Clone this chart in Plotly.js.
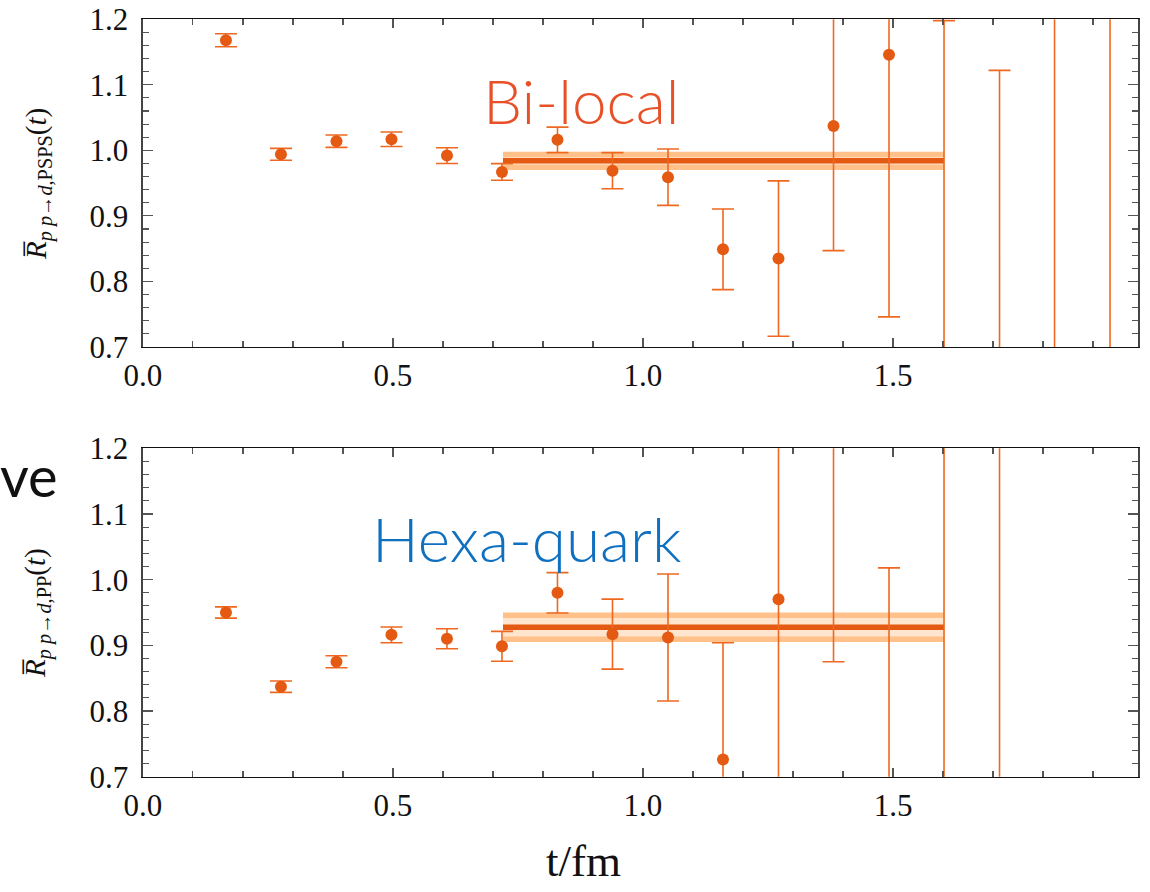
<!DOCTYPE html>
<html>
<head>
<meta charset="utf-8">
<script src="https://cdn.plot.ly/plotly-3.0.1.min.js"></script>
<style>html,body{margin:0;padding:0;background:#fff;}#chart{width:1150px;height:892px;}</style>
</head>
<body>
<div id="chart"></div>
<script>
// ---- data ----
const tTop = [0.166, 0.276, 0.387, 0.497, 0.608, 0.718, 0.829, 0.939, 1.050, 1.160, 1.271, 1.381, 1.492, 1.602, 1.713, 1.823, 1.934];
const rTop = [1.168, 0.994, 1.014, 1.017, 0.992, 0.967, 1.016, 0.969, 0.959, 0.849, 0.835, 1.037, 1.146, 0.55, 0.45, 0.40, 0.35];
const eTop = [0.010, 0.009, 0.0094, 0.011, 0.012, 0.0127, 0.0195, 0.0275, 0.043, 0.0615, 0.1185, 0.19, 0.40, 0.648, 0.672, 1.6, 1.7];

const tBot = [0.166, 0.276, 0.387, 0.497, 0.608, 0.718, 0.829, 0.939, 1.050, 1.160, 1.271, 1.381, 1.492, 1.602, 1.713];
const rBot = [0.950, 0.837, 0.875, 0.916, 0.910, 0.8985, 0.980, 0.917, 0.912, 0.726, 0.970, 1.35, 0.55, 0.40, 0.35];
const eBot = [0.0086, 0.0086, 0.0091, 0.012, 0.0152, 0.0228, 0.0307, 0.0533, 0.0967, 0.178, 0.35, 0.475, 0.468, 1.5, 1.6];

const fitRange = [0.72, 1.602];
const fitTop = [0.984, 0.0097];   // value, error
const fitBot = [0.9274, 0.0183];

const xTicks = [0.0, 0.5, 1.0, 1.5];
const xTickText = ['0.0', '0.5', '1.0', '1.5'];
const yTicks = [0.7, 0.8, 0.9, 1.0, 1.1, 1.2];
const yTickText = ['0.7', '0.8', '0.9', '1.0', '1.1', '1.2'];

// ---- style ----
const markerColor = 'rgb(228,90,18)';
const errColor = 'rgb(238,104,32)';
const bandEdge = 'rgb(255,192,138)';
const bandFill = 'rgba(255,226,200,0.9)';
const serif = 'Liberation Serif';

function pointsTrace(t, r, e, xa, ya) {
  return {
    x: t, y: r, xaxis: xa, yaxis: ya, type: 'scatter', mode: 'markers',
    marker: {color: markerColor, size: 12},
    error_y: {type: 'data', array: e, symmetric: true, color: errColor, thickness: 1.6, width: 11},
    showlegend: false, hoverinfo: 'skip'
  };
}
function bandTraces(fit, xa, ya) {
  const lo = fit[0] - fit[1], hi = fit[0] + fit[1];
  return [
    {x: fitRange, y: [lo, lo], xaxis: xa, yaxis: ya, mode: 'lines', line: {color: bandEdge, width: 5.5}, showlegend: false, hoverinfo: 'skip'},
    {x: fitRange, y: [hi, hi], xaxis: xa, yaxis: ya, mode: 'lines', fill: 'tonexty', fillcolor: bandFill, line: {color: bandEdge, width: 5.5}, showlegend: false, hoverinfo: 'skip'},
    {x: fitRange, y: [fit[0], fit[0]], xaxis: xa, yaxis: ya, mode: 'lines', line: {color: markerColor, width: 5.5}, showlegend: false, hoverinfo: 'skip'}
  ];
}

const data = [].concat(
  bandTraces(fitTop, 'x', 'y'),
  [pointsTrace(tTop, rTop, eTop, 'x', 'y')],
  bandTraces(fitBot, 'x2', 'y2'),
  [pointsTrace(tBot, rBot, eBot, 'x2', 'y2')]
);

function xAxis(anchor) {
  return {
    domain: [0.1243, 0.9896], anchor: anchor, range: [0, 1.99],
    tickvals: xTicks, ticktext: xTickText, ticks: 'inside', ticklen: 9, tickwidth: 1.2, tickcolor: '#555',
    minor: {dtick: 0.1, tick0: 0, ticks: 'inside', ticklen: 6, tickwidth: 1.1, tickcolor: '#555'},
    showline: true, linecolor: '#111', linewidth: 1.3, mirror: 'ticks',
    showgrid: false, zeroline: false, automargin: false,
    tickfont: {family: serif, size: 31, color: '#111'}, ticklabelstandoff: 1
  };
}
function yAxis(domain, anchor) {
  return {
    domain: domain, anchor: anchor, range: [0.7, 1.2],
    tickvals: yTicks, ticktext: yTickText, ticks: 'inside', ticklen: 10, tickwidth: 1.2, tickcolor: '#555',
    minor: {dtick: 0.02, tick0: 0.7, ticks: 'inside', ticklen: 6, tickwidth: 1.1, tickcolor: '#555'},
    showline: true, linecolor: '#444', linewidth: 1.5, mirror: 'ticks',
    showgrid: false, zeroline: false, automargin: false,
    tickfont: {family: serif, size: 31, color: '#111'}, ticklabelstandoff: 7
  };
}

const labelFont = {family: 'Lato Light, Lato', size: 62, weight: 300};

const layout = {
  width: 1150, height: 892,
  margin: {l: 0, r: 0, t: 0, b: 0},
  paper_bgcolor: '#fff', plot_bgcolor: '#fff',
  showlegend: false,
  xaxis: xAxis('y'),
  yaxis: yAxis([0.6110, 0.9784], 'x'),
  xaxis2: xAxis('y2'),
  yaxis2: yAxis([0.1293, 0.4974], 'x2'),
  annotations: [
    {text: 'Bi-local', xref: 'paper', yref: 'paper', x: 0.5048, y: 0.888, xanchor: 'center', yanchor: 'middle', showarrow: false,
     font: Object.assign({}, labelFont, {color: 'rgb(232,80,40)'})},
    {text: 'Hexa-quark', xref: 'paper', yref: 'paper', x: 0.4574, y: 0.397, xanchor: 'center', yanchor: 'middle', showarrow: false,
     font: Object.assign({}, labelFont, {color: 'rgb(16,112,192)'})},
    {text: 've', xref: 'paper', yref: 'paper', x: -0.002, y: 0.4664, xanchor: 'left', yanchor: 'middle', showarrow: false,
     font: {family: 'Lato', size: 56, color: '#111'}},
    {text: 't/fm', xref: 'paper', yref: 'paper', x: 0.507, y: 0.0345, xanchor: 'center', yanchor: 'middle', showarrow: false,
     font: {family: serif, size: 45, color: '#111'}},
    {text: '<i>R\u0305</i><sub><i>p p</i>\u2192<i>d</i>,PSPS</sub>(<i>t</i>)', xref: 'paper', yref: 'paper', x: 0.033, y: 0.7937, xanchor: 'center', yanchor: 'middle',
     textangle: -90, showarrow: false, font: {family: serif, size: 29, color: '#111'}},
    {text: '<i>R\u0305</i><sub><i>p p</i>\u2192<i>d</i>,PP</sub>(<i>t</i>)', xref: 'paper', yref: 'paper', x: 0.033, y: 0.3128, xanchor: 'center', yanchor: 'middle',
     textangle: -90, showarrow: false, font: {family: serif, size: 29, color: '#111'}}
  ]
};

Plotly.newPlot('chart', data, layout, {staticPlot: true, displayModeBar: false});
</script>
</body>
</html>
